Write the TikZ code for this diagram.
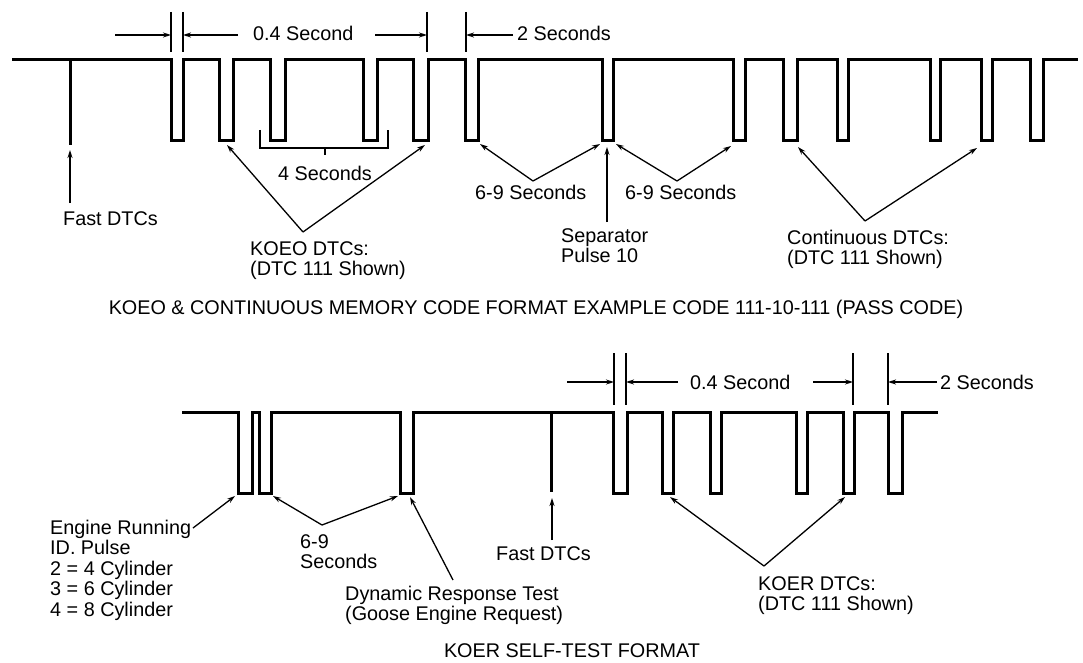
\documentclass[tikz,border=0pt]{standalone}
\usepackage{fontspec}
\setmainfont{Liberation Sans}
\usetikzlibrary{arrows.meta}
\begin{document}
\begin{tikzpicture}[x=1pt,y=-1pt,
  wave/.style={line width=3pt, line join=miter},
  thinline/.style={line width=1.3pt},
  arr/.style={line width=1.3pt,-{Stealth[length=8pt,width=5pt]}},
  lbl/.style={inner sep=0pt, font=\fontsize{19.8}{20.4}\selectfont, align=left},
]
\useasboundingbox (0,0) rectangle (1083,663);

% ---------------- top waveform ----------------
\draw[wave] (12,60) foreach \a/\b in {171/183,219/233,270/285,363/377,413/428,465/478,602/613,733/745,783/797,837/848,930/940,981/992,1030/1043}
  { -- (\a,60) -- (\a,141) -- (\b,141) -- (\b,60) } -- (1078,60);
\draw[wave] (70,60) -- (70,145);

% dimensions top
\draw[thinline] (171,12) -- (171,52);
\draw[thinline] (183,12) -- (183,52);
\draw[thinline] (427,12) -- (427,52);
\draw[thinline] (466,12) -- (466,52);
\coordinate (d1a) at (115,35); \coordinate (d1b) at (171,35);
\coordinate (d2a) at (238,35); \coordinate (d2b) at (183,35);
\coordinate (d3a) at (375,35); \coordinate (d3b) at (427,35);
\coordinate (d4a) at (513,35); \coordinate (d4b) at (466,35);
\draw[arr] (d1a) -- (d1b);
\draw[arr] (d2a) -- (d2b);
\draw[arr] (d3a) -- (d3b);
\draw[arr] (d4a) -- (d4b);
\node[lbl,anchor=base west] (t04) at (253,41) {0.4 Second};
\node[lbl,anchor=base west] (t2s) at (517,41) {2 Seconds};

% 4 seconds bracket
\draw[thinline] (260,130) -- (260,148) -- (388,148) -- (388,130);
\draw[thinline] (325,148) -- (325,155);
\node[lbl,anchor=base] (t4s) at (325,181) {4 Seconds};

% fast DTCs top
\node[lbl,anchor=base west] (fast1) at (63,225) {Fast DTCs};
\coordinate (fast1s) at (70,203); \coordinate (fast1e) at (70,150);
\draw[arr] (fast1s) -- (fast1e);

% KOEO DTCs
\node[lbl,anchor=north west] (koeo) at (250,241) {KOEO DTCs:\\(DTC 111 Shown)};
\coordinate (koeoV) at (303,232);
\coordinate (koeoA) at (227,145); \coordinate (koeoB) at (425,145);
\draw[arr] (koeoV) -- (koeoA);
\draw[arr] (koeoV) -- (koeoB);

% 6-9 seconds top
\node[lbl,anchor=base west] (s69a) at (475,199) {6-9 Seconds};
\node[lbl,anchor=base west] (s69b) at (625,199) {6-9 Seconds};
\coordinate (v1) at (533,181); \coordinate (v1a) at (480,144); \coordinate (v1b) at (600,144);
\coordinate (v2) at (677,181); \coordinate (v2a) at (616,144); \coordinate (v2b) at (731,146);
\draw[arr] (v1) -- (v1a); \draw[arr] (v1) -- (v1b);
\draw[arr] (v2) -- (v2a); \draw[arr] (v2) -- (v2b);

% separator
\node[lbl,anchor=north west] (sep) at (561,228) {Separator\\Pulse 10};
\coordinate (seps) at (607,222); \coordinate (sepe) at (607,147);
\draw[arr] (seps) -- (sepe);

% continuous DTCs
\node[lbl,anchor=north west] (cont) at (787,230) {Continuous DTCs:\\(DTC 111 Shown)};
\coordinate (contV) at (865,221);
\coordinate (contA) at (798,147); \coordinate (contB) at (977,148);
\draw[arr] (contV) -- (contA);
\draw[arr] (contV) -- (contB);

\node[lbl,anchor=base] (cap1) at (536,314) {KOEO \& CONTINUOUS MEMORY CODE FORMAT EXAMPLE CODE 111-10-111 (PASS CODE)};

% ---------------- bottom waveform ----------------
\draw[wave] (182,412) foreach \a/\b in {238/252,259/271,400/413,613/627,662/673,710/721,796/807,843/854,888/902}
  { -- (\a,412) -- (\a,493) -- (\b,493) -- (\b,412) } -- (938,412);
\draw[wave] (551,412) -- (551,492);

% dimensions bottom
\draw[thinline] (614,353) -- (614,405);
\draw[thinline] (626,353) -- (626,405);
\draw[thinline] (853,353) -- (853,405);
\draw[thinline] (888,353) -- (888,405);
\coordinate (e1a) at (567,382); \coordinate (e1b) at (614,382);
\coordinate (e2a) at (678,382); \coordinate (e2b) at (626,382);
\coordinate (e3a) at (813,382); \coordinate (e3b) at (853,382);
\coordinate (e4a) at (937,382); \coordinate (e4b) at (888,382);
\draw[arr] (e1a) -- (e1b);
\draw[arr] (e2a) -- (e2b);
\draw[arr] (e3a) -- (e3b);
\draw[arr] (e4a) -- (e4b);
\node[lbl,anchor=base west] (b04) at (690,389) {0.4 Second};
\node[lbl,anchor=base west] (b2s) at (940,389) {2 Seconds};

% engine running
\node[lbl,anchor=north west] (eng) at (50,520) {Engine Running\\ID. Pulse\\2 = 4 Cylinder\\3 = 6 Cylinder\\4 = 8 Cylinder};
\coordinate (engs) at (193,528); \coordinate (enge) at (235,496);
\draw[arr] (engs) -- (enge);

% 6-9 seconds bottom
\node[lbl,anchor=north west] (b69) at (300,534) {6-9\\Seconds};
\coordinate (bv) at (322,525); \coordinate (bva) at (273,496); \coordinate (bvb) at (398,496);
\draw[arr] (bv) -- (bva); \draw[arr] (bv) -- (bvb);

% dynamic response
\node[lbl,anchor=north west] (dyn) at (345,586) {Dynamic Response Test\\(Goose Engine Request)};
\coordinate (dyns) at (453,580); \coordinate (dyne) at (410,497);
\draw[arr] (dyns) -- (dyne);

% fast DTCs bottom
\node[lbl,anchor=base west] (fast2) at (496,560) {Fast DTCs};
\coordinate (fast2s) at (552,540); \coordinate (fast2e) at (552,498);
\draw[arr] (fast2s) -- (fast2e);

% KOER DTCs
\node[lbl,anchor=north west] (koer) at (758,576) {KOER DTCs:\\(DTC 111 Shown)};
\coordinate (koerV) at (764,566);
\coordinate (koerA) at (670,497); \coordinate (koerB) at (845,497);
\draw[arr] (koerV) -- (koerA);
\draw[arr] (koerV) -- (koerB);

\node[lbl,anchor=base] (cap2) at (572,657) {KOER SELF-TEST FORMAT};
\end{tikzpicture}
\end{document}
